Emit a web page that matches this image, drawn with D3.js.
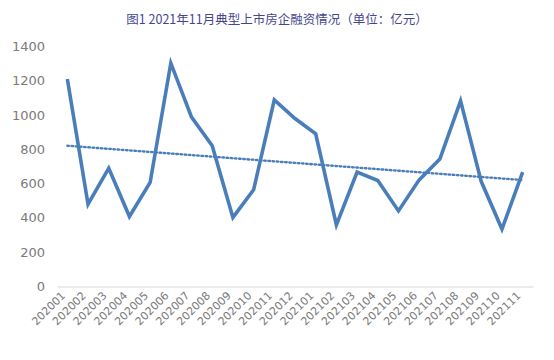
<!DOCTYPE html>
<html><head><meta charset="utf-8">
<script src="https://cdn.jsdelivr.net/npm/d3@7"></script>
<style>body{margin:0;background:#fff}svg{display:block}</style>
</head><body>
<script>
const title = "图1 2021年11月典型上市房企融资情况（单位：亿元）";
const months = ["202001","202002","202003","202004","202005","202006","202007","202008","202009","202010","202011","202012","202101","202102","202103","202104","202105","202106","202107","202108","202109","202110","202111"];
const values = [1210,480,690,408,607,1303,988,821,403,564,1089,980,891,360,667,618,441,622,743,1083,612,335,667];
const yTicks = [0,200,400,600,800,1000,1200,1400];

const W=554,H=360;
const svg=d3.select("body").append("svg").attr("width",W).attr("height",H);
const x=d3.scaleBand().domain(months).range([57,533]);
const y=d3.scaleLinear().domain([0,1400]).range([286.5,46.5]);
const cx=d=>x(d)+x.bandwidth()/2;

svg.append("text").attr("x",277).attr("y",24).attr("text-anchor","middle")
  .attr("font-family","'Noto Sans CJK SC',sans-serif").attr("font-size",12.5)
  .attr("fill","#46468f").text(title);

// y labels
svg.append("g").selectAll("text").data(yTicks).join("text")
  .attr("x",45).attr("y",d=>y(d)).attr("dy","0.35em").attr("text-anchor","end")
  .attr("font-family","'DejaVu Sans',sans-serif").attr("font-size",13).attr("fill","#7a7a7a")
  .text(d=>d);

// x axis
const xa=svg.append("g").attr("transform",`translate(0,${y(0)})`)
  .call(d3.axisBottom(x).tickSize(0).tickPadding(0));
xa.select(".domain").attr("stroke","#d9d9d9").attr("stroke-width",1.2);
xa.selectAll("text").attr("font-family","'DejaVu Sans',sans-serif").attr("font-size",11)
  .attr("fill","#7a7a7a").attr("text-anchor","end")
  .attr("transform","translate(-4,7) rotate(-45)").attr("dy","0.35em");

// trend line (least squares)
const n=values.length, idx=d3.range(n);
const mx=d3.mean(idx), my=d3.mean(values);
const slope=d3.sum(idx,i=>(i-mx)*(values[i]-my))/d3.sum(idx,i=>(i-mx)*(i-mx));
const b=my-slope*mx;
svg.append("line").attr("x1",cx(months[0])).attr("x2",cx(months[n-1]))
  .attr("y1",y(b)).attr("y2",y(b+slope*(n-1)))
  .attr("stroke","#4a7ebb").attr("stroke-width",2.4).attr("stroke-dasharray","1.6,2.6")
  .attr("stroke-linecap","round");

svg.append("path").datum(values)
  .attr("d",d3.line().x((d,i)=>cx(months[i])).y(d=>y(d)))
  .attr("fill","none").attr("stroke","#4a7ebb").attr("stroke-width",3.6)
  .attr("stroke-linejoin","miter");
</script>
</body></html>
